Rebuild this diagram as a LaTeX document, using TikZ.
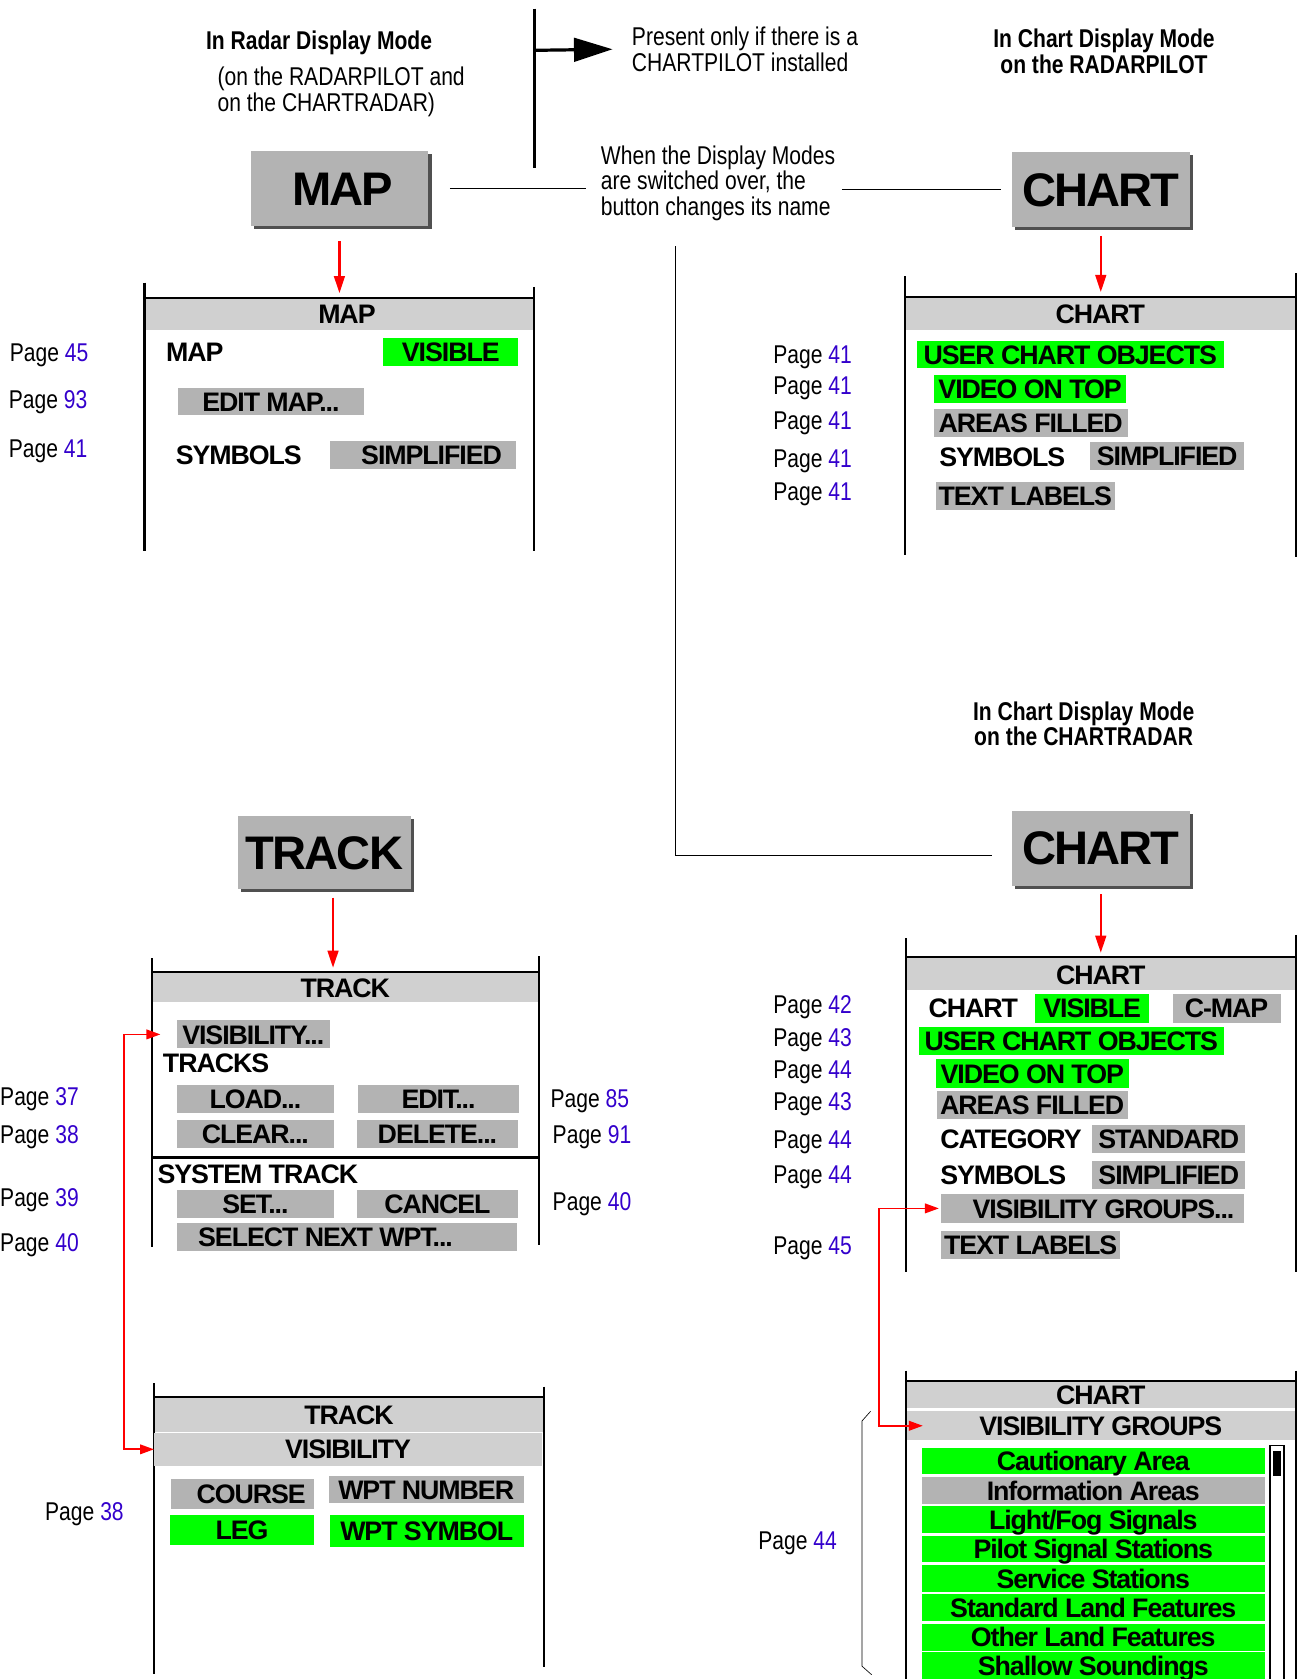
\documentclass[tikz,border=0pt]{standalone}
\usepackage{fontspec}
\usepackage{tikz}
\usetikzlibrary{arrows.meta,positioning,shadows}

\setmainfont{Liberation Sans}
\newfontfamily\narrowfont[FakeStretch=0.82]{Liberation Sans}
\newfontfamily\btnfont[LetterSpace=-4]{Liberation Sans}

\definecolor{btngray}{RGB}{179,179,179}
\definecolor{headgray}{RGB}{208,208,208}
\definecolor{litgreen}{RGB}{0,255,0}
\definecolor{pagenum}{RGB}{51,0,204}
\definecolor{shadowgray}{RGB}{80,80,80}

\newcommand{\notefont}{\narrowfont\fontsize{24}{24}\selectfont}
\newcommand{\itemfont}{\btnfont\bfseries\fontsize{25}{25}\selectfont}
\newcommand{\bigfont}{\btnfont\bfseries\fontsize{44}{44}\selectfont}
\newcommand{\pnum}[1]{\textcolor{pagenum}{#1}}

\begin{document}
\begin{tikzpicture}[x=1pt,y=-1pt]
\tikzstyle{menuitem}=[inner sep=0pt, minimum height=26pt, text height=18pt, text depth=0pt, font=\itemfont]
\tikzstyle{offbtn}=[menuitem, fill=btngray]
\tikzstyle{onbtn}=[menuitem, fill=litgreen]
\tikzstyle{head}=[menuitem, fill=headgray, minimum width=362pt, minimum height=29pt]
\tikzstyle{lbl}=[inner sep=0pt, anchor=west, text height=18pt, text depth=0pt, font=\itemfont]
\tikzstyle{pg}=[inner sep=0pt, anchor=west, text height=17pt, text depth=0pt, font=\notefont]
\tikzstyle{bigbtn}=[fill=btngray, inner sep=0pt, minimum width=166pt, minimum height=70pt,
text height=31.5pt, text depth=0pt, font=\bigfont,
drop shadow={shadow xshift=3pt, shadow yshift=-3pt, fill=shadowgray, opacity=1}]
\tikzstyle{frame}=[line width=2pt]
\tikzstyle{note}=[line width=1pt]
\tikzstyle{redarr}=[red, line width=2.2pt, -{Triangle[length=16pt,width=10pt]}]
\tikzstyle{redlink}=[red, line width=1.6pt, {Triangle[length=13pt,width=9pt]}-{Triangle[length=13pt,width=9pt]}]

\useasboundingbox (0,0) rectangle (1219,1568);

% headings and notes
\node[font=\notefont\bfseries] (radarmode) at (298,40) {In Radar Display Mode};
\node[font=\notefont, align=left, anchor=west, inner sep=0pt] (radarsub) at (203,86) {(on the RADARPILOT and\\on the CHARTRADAR)};
\node[font=\notefont, align=left, anchor=west, inner sep=0pt] (pilotnote) at (590,46) {Present only if there is a\\CHARTPILOT installed};
\node[font=\notefont\bfseries, align=center] (chartmode) at (1031,48) {In Chart Display Mode\\on the RADARPILOT};
\node[font=\notefont, align=left, anchor=west, inner sep=0pt] (swnote) at (561,171) {When the Display Modes\\are switched over, the\\button changes its name};
\node[font=\notefont\bfseries, align=center] (chartmodeb) at (1012,676) {In Chart Display Mode\\on the CHARTRADAR};

\coordinate (split) at (499,47);
\draw[line width=3pt] (499,8) -- (499,157);
\draw[line width=3pt, -{Triangle[length=36pt,width=22pt]}] (split) -- ([xshift=-18pt]pilotnote.west);

% buttons
\node[bigbtn] (mapbtn) at (317,176) {\hspace*{6pt}MAP};
\node[bigbtn] (chartbtn) at (1028,177) {CHART};
\node[bigbtn] (chartbtnb) at (1028,792) {CHART};
\node[bigbtn, minimum width=162pt, minimum height=68pt] (trackbtn) at (303,796) {TRACK};

\draw[note, shorten <=20pt, shorten >=14pt] (mapbtn.east) -- (mapbtn.east -| swnote.west);
\draw[note, shorten <=6pt, shorten >=10pt] (swnote.east |- chartbtn.west) -- (chartbtn.west);
\coordinate (swfoot) at (631,230);
\draw[note] (swfoot) |- ([xshift=-18pt,yshift=-7pt]chartbtnb.west);

% MAP menu
\draw[frame] (135,264) -- (135,515);
\draw[frame] (499,268) -- (499,515);
\draw[frame] (135,278) -- (499,278);
\node[head] (maphead) at (317,293.5) {\hspace*{14pt}MAP};
\node[lbl] (maplbl) at (155,329) {MAP};
\node[onbtn, minimum width=126pt] (mapvis) at (421,329) {VISIBLE};
\node[offbtn, minimum width=174pt] (mapedit) at (253,375) {EDIT MAP...};
\node[lbl] (mapsym) at (164,425) {SYMBOLS};
\node[offbtn, minimum width=174pt] (mapsimp) at (395,425) {\hspace*{16pt}SIMPLIFIED};
\node[pg] (mappga) at (9,329) {Page \pnum{45}};
\node[pg] (mappgb) at (8,373) {Page \pnum{93}};
\node[pg] (mappgc) at (8,419) {Page \pnum{41}};
\draw[redarr, shorten <=14pt, shorten >=5pt] (mapbtn) -- (mapbtn |- maphead.north);

% CHART menu on the RADARPILOT
\draw[frame] (845,258) -- (845,518);
\draw[frame] (1210,255) -- (1210,520);
\draw[frame] (845,277) -- (1210,277);
\node[head, minimum width=363pt, minimum height=30pt] (charthead) at (1027.5,293) {CHART};
\node[onbtn, minimum width=287pt] (chartuco) at (999.5,331) {USER CHART OBJECTS};
\node[onbtn, minimum width=180pt] (chartvot) at (962,363) {VIDEO ON TOP};
\node[offbtn, minimum width=181pt] (chartarea) at (962.5,395) {AREAS FILLED};
\node[lbl] (chartsym) at (877,427) {SYMBOLS};
\node[offbtn, minimum width=144pt] (chartsimp) at (1090,426) {SIMPLIFIED};
\node[offbtn, minimum width=167pt] (charttext) at (957.5,463) {TEXT LABELS};
\node[pg] (chartpga) at (722,331) {Page \pnum{41}};
\node[pg] (chartpgb) at (722,360) {Page \pnum{41}};
\node[pg] (chartpgc) at (722,393) {Page \pnum{41}};
\node[pg] (chartpgd) at (722,428) {Page \pnum{41}};
\node[pg] (chartpge) at (722,459) {Page \pnum{41}};
\draw[redarr, shorten <=8pt, shorten >=5pt] (chartbtn) -- (chartbtn |- charthead.north);

% CHART menu on the CHARTRADAR
\draw[frame] (846,876) -- (846,1188);
\draw[frame] (1210,873) -- (1210,1188);
\draw[frame] (846,894) -- (1210,894);
\node[head, minimum width=362pt, minimum height=30pt] (crhead) at (1028,910) {CHART};
\node[lbl] (crlbl) at (867,941) {CHART};
\node[onbtn, minimum width=106pt, minimum height=27pt] (crvis) at (1020,941.5) {VISIBLE};
\node[offbtn, minimum width=101pt, minimum height=27pt] (crcmap) at (1145.5,941.5) {C-MAP};
\node[onbtn, minimum width=285pt] (cruco) at (1000.5,972) {USER CHART OBJECTS};
\node[onbtn, minimum width=180pt, minimum height=27pt] (crvot) at (964,1002.5) {VIDEO ON TOP};
\node[offbtn, minimum width=178pt] (crarea) at (964,1032) {AREAS FILLED};
\node[lbl] (crcat) at (878,1064) {CATEGORY};
\node[offbtn, minimum width=143pt] (crstd) at (1091.5,1064) {STANDARD};
\node[lbl] (crsym) at (878,1097) {SYMBOLS};
\node[offbtn, minimum width=143pt] (crsimp) at (1091.5,1097) {SIMPLIFIED};
\node[offbtn, minimum width=283pt, minimum height=27pt] (cvgbtn) at (1020.5,1128.5) {\hspace*{20pt}VISIBILITY GROUPS...};
\node[offbtn, minimum width=167pt] (crtext) at (962.5,1163) {TEXT LABELS};
\node[pg] (crpga) at (722,938) {Page \pnum{42}};
\node[pg] (crpgb) at (722,969) {Page \pnum{43}};
\node[pg] (crpgc) at (722,999) {Page \pnum{44}};
\node[pg] (crpgd) at (722,1029) {Page \pnum{43}};
\node[pg] (crpge) at (722,1064) {Page \pnum{44}};
\node[pg] (crpgf) at (722,1097) {Page \pnum{44}};
\node[pg] (crpgg) at (722,1163) {Page \pnum{45}};
\draw[redarr, shorten <=8pt, shorten >=5pt] (chartbtnb) -- (chartbtnb |- crhead.north);

% CHART visibility groups
\draw[frame] (846,1280) -- (846,1575);
\draw[frame] (1210,1280) -- (1210,1575);
\draw[frame] (846,1290) -- (1210,1290);
\node[head, minimum height=24pt] (cvtop) at (1028,1303) {CHART};
\node[head, minimum height=27pt] (cvghead) at (1028,1331.5) {VISIBILITY GROUPS};
\node[onbtn, minimum width=320pt, minimum height=25pt] (vga) at (1021,1364.5) {Cautionary Area};
\node[offbtn, minimum width=320pt, minimum height=25pt] (vgb) at (1021,1392) {Information Areas};
\node[onbtn, minimum width=320pt, minimum height=25pt] (vgc) at (1021,1419) {Light/Fog Signals};
\node[onbtn, minimum width=320pt, minimum height=25pt] (vgd) at (1021,1446.5) {Pilot Signal Stations};
\node[onbtn, minimum width=320pt, minimum height=25pt] (vge) at (1021,1474) {Service Stations};
\node[onbtn, minimum width=320pt, minimum height=25pt] (vgf) at (1021,1501.5) {Standard Land Features};
\node[onbtn, minimum width=320pt, minimum height=25pt] (vgg) at (1021,1529) {Other Land Features};
\node[onbtn, minimum width=320pt, minimum height=25pt] (vgh) at (1021,1555.5) {Shallow Soundings};
\draw[line width=1.5pt] (1186,1350) rectangle (1199,1580);
\fill (1189,1355) rectangle (1196,1378);
\draw[line width=0.6pt] (813,1318) -- (805,1327) -- (805,1556) -- (814,1564);
\node[pg] (cvpg) at (708,1439) {Page \pnum{44}};
\coordinate (cvx) at (821,0);
\draw[redlink] ([xshift=-2pt]cvgbtn.west) -- (cvgbtn.west -| cvx) -- (cvghead.west -| cvx) -- ([xshift=15pt]cvghead.west);

% TRACK menu
\draw[frame] (142,895) -- (142,1165);
\draw[frame] (503,893) -- (503,1163);
\draw[frame] (142,908) -- (503,908);
\node[head, minimum width=359pt, minimum height=27pt] (trhead) at (322.5,922.5) {TRACK};
\node[offbtn, minimum width=143pt] (tvisbtn) at (236.5,966) {VISIBILITY...};
\node[lbl] (trtracks) at (152,993) {TRACKS};
\node[offbtn, minimum width=147pt] (trload) at (238.5,1026) {LOAD...};
\node[offbtn, minimum width=151pt] (tredit) at (409.5,1026) {EDIT...};
\node[offbtn, minimum width=147pt] (trclear) at (238.5,1059) {CLEAR...};
\node[offbtn, minimum width=151pt] (trdel) at (408.5,1059) {DELETE...};
\draw[frame] (142,1081) -- (503,1081);
\node[lbl] (trsys) at (147,1096) {SYSTEM TRACK};
\node[offbtn, minimum width=147pt] (trset) at (238.5,1124) {SET...};
\node[offbtn, minimum width=151pt] (trcancel) at (408.5,1124) {CANCEL};
\node[offbtn, minimum width=318pt] (trnext) at (324,1155) {SELECT NEXT WPT...\hspace*{40pt}};
\node[pg] (trpga) at (0,1024) {Page \pnum{37}};
\node[pg] (trpgb) at (0,1059) {Page \pnum{38}};
\node[pg] (trpgc) at (0,1118) {Page \pnum{39}};
\node[pg] (trpgd) at (0,1160) {Page \pnum{40}};
\node[pg] (trpge) at (514,1026) {Page \pnum{85}};
\node[pg] (trpgf) at (516,1059) {Page \pnum{91}};
\node[pg] (trpgg) at (516,1122) {Page \pnum{40}};
\draw[redarr, shorten <=8pt, shorten >=5pt] ([xshift=8pt]trackbtn.south) -- ([xshift=8pt]trackbtn.south |- trhead.north);

% TRACK visibility
\draw[frame] (144,1292) -- (144,1563);
\draw[frame] (508,1295) -- (508,1557);
\draw[frame] (144,1305) -- (508,1305);
\node[head, minimum width=362pt, minimum height=31pt] (tvtop) at (326,1321.5) {TRACK};
\node[head, minimum width=362pt, minimum height=31pt] (tvishead) at (325,1353.5) {VISIBILITY};
\node[offbtn, minimum width=133pt, minimum height=28pt] (tvcourse) at (226.5,1395) {\hspace*{16pt}COURSE};
\node[offbtn, minimum width=182pt] (tvnum) at (398,1391) {WPT NUMBER};
\node[onbtn, minimum width=134pt, minimum height=28pt] (tvleg) at (226,1429) {LEG};
\node[onbtn, minimum width=181pt, minimum height=30pt] (tvsym) at (398.5,1430) {WPT SYMBOL};
\node[pg] (tvpg) at (42,1411) {Page \pnum{38}};
\coordinate (tvx) at (116,0);
\draw[redlink] ([xshift=-15pt]tvisbtn.west) -- (tvisbtn.west -| tvx) -- (tvishead.west -| tvx) -- (tvishead.west);

\end{tikzpicture}
\end{document}
